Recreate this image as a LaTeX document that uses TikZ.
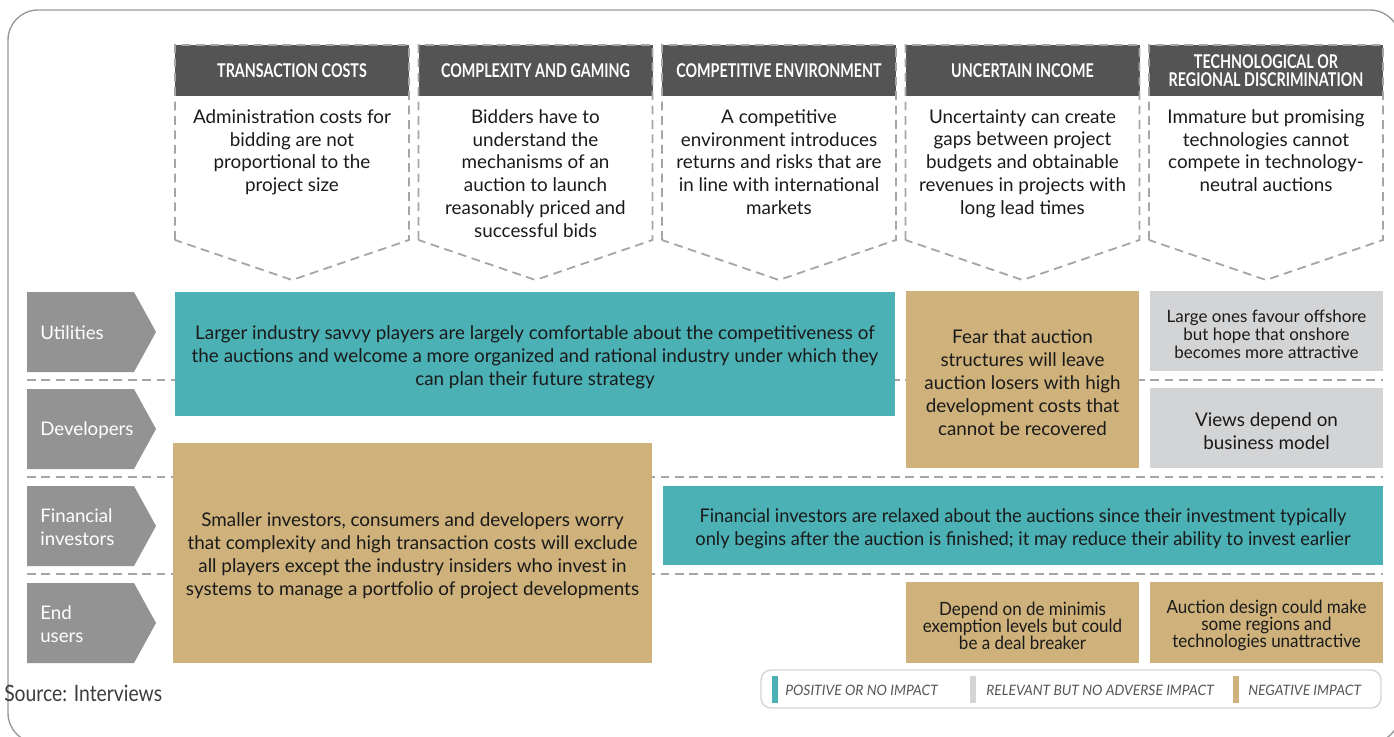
\documentclass[tikz,border=0pt]{standalone}
\usepackage{fontspec}
\setmainfont{Lato}
\newfontfamily\headfont[FakeStretch=0.755]{Lato}
\newfontfamily\narrowfont[FakeStretch=0.97]{Lato}
\newfontfamily\smallfont[FakeStretch=0.93]{Lato}
\newfontfamily\srcfont[FakeStretch=0.86]{Lato}
\usetikzlibrary{fit, positioning}

\definecolor{boxteal}{HTML}{4BB1B5}
\definecolor{boxtan}{HTML}{CFB27B}
\definecolor{boxgray}{HTML}{D3D4D6}
\definecolor{headgray}{HTML}{545454}
\definecolor{rowgray}{HTML}{939393}
\definecolor{linegray}{HTML}{A5A5A5}
\definecolor{framegray}{HTML}{9A9A9A}
\definecolor{txtdark}{HTML}{1A1A1A}
\definecolor{legtext}{HTML}{555555}

\begin{document}
\begin{tikzpicture}[x=0.25mm, y=-0.25mm,
    box/.style={inner sep=0pt, outer sep=0pt},
    posbox/.style={box, fill=boxteal},
    relbox/.style={box, fill=boxgray},
    negbox/.style={box, fill=boxtan},
    boxtext/.style={inner sep=0pt, align=center, text=txtdark, font=\fontsize{13.4}{16.3}\selectfont},
    intext/.style={boxtext, yshift=-0.75mm},
    narrow/.style={intext, font=\narrowfont\fontsize{13.4}{16.3}\selectfont},
    small/.style={intext, font=\smallfont\fontsize{13}{12.2}\selectfont},
    sep/.style={draw=linegray, line width=0.45mm, dash pattern=on 2.2mm off 1.4mm},
    rowlabel/.style={anchor=west, align=left, inner sep=0pt, text=white, font=\fontsize{13.3}{16.3}\selectfont},
    head/.style={align=center, inner sep=0pt, text=white, font=\headfont\bfseries\fontsize{13.5}{12.8}\selectfont},
    legend/.style={anchor=west, inner sep=0pt, text=legtext, font=\narrowfont\itshape\fontsize{10.2}{11}\selectfont}]
  \useasboundingbox (0,0) rectangle (1394,737);
  \clip (0,0) rectangle (1394,737);
  \draw[framegray, line width=0.35mm, rounded corners=7.5mm] (8,10) rectangle (1400,743);

  % column headers
  \foreach \i/\ttl/\txt in {
      0/{TRANSACTION COSTS}/{Administration costs for\\bidding are not\\proportional to the\\project size},
      1/{COMPLEXITY AND GAMING}/{Bidders have to\\understand the\\mechanisms of an\\auction to launch\\reasonably priced and\\successful bids},
      2/{COMPETITIVE ENVIRONMENT}/{A competitive\\environment introduces\\returns and risks that are\\in line with international\\markets},
      3/{UNCERTAIN INCOME}/{Uncertainty can create\\gaps between project\\budgets and obtainable\\revenues in projects with\\long lead times},
      4/{TECHNOLOGICAL OR\\REGIONAL DISCRIMINATION}/{Immature but promising\\technologies cannot\\compete in technology-\\neutral auctions}} {
    \pgfmathsetmacro\xl{175+243.5*\i}
    \pgfmathsetmacro\xr{\xl+234}
    \pgfmathsetmacro\xc{\xl+117}
    \fill[headgray] (\xl,45) rectangle (\xr,96);
    \draw[sep] (\xl,240) -- (\xl,45) -- (\xr,45) -- (\xr,240) -- (\xc,280) -- cycle;
    \node[head] (h\i) at (\xc,70.5) {\ttl};
    \node[boxtext, anchor=north] (c\i) at (\xc,109) {\txt};
  }

  % rows
  \foreach \y in {380,477,574}
    \draw[sep] (27,\y) -- (1383,\y);
  \foreach \i/\y/\lbl in {1/292/Utilities, 2/389/Developers, 3/486/{Financial\\investors}, 4/583/{End\\users}} {
    \fill[rowgray] (27,\y) -- (134,\y) -- (156,\y+40) -- (134,\y+80) -- (27,\y+80) -- cycle;
    \node[rowlabel] (r\i) at (40,\y+41) {\lbl};
  }

  % impact boxes
  \node[posbox, fit={(175,292) (895,416)}] (pos1) {};
  \node[intext] at (pos1) {Larger industry savvy players are largely comfortable about the competitiveness of\\the auctions and welcome a more organized and rational industry under which they\\can plan their future strategy};
  \node[negbox, fit={(173,443) (652,663)}] (neg1) {};
  \node[intext] at (neg1) {Smaller investors, consumers and developers worry\\that complexity and high transaction costs will exclude\\all players except the industry insiders who invest in\\systems to manage a portfolio of project developments};
  \node[negbox, fit={(906,291) (1139,468)}] (neg2) {};
  \node[intext] at (neg2) {Fear that auction\\structures will leave\\auction losers with high\\development costs that\\cannot be recovered};
  \node[relbox, fit={(1150,291) (1383,371)}] (rel1) {};
  \node[intext, font=\fontsize{12.1}{12.9}\selectfont] at (rel1) {Large ones favour offshore\\but hope that onshore\\becomes more attractive};
  \node[relbox, fit={(1150,388) (1383,468)}] (rel2) {};
  \node[intext] at (rel2) {Views depend on\\business model};
  \node[posbox, fit={(663,486) (1383,565)}] (pos2) {};
  \node[narrow] at (pos2) {Financial investors are relaxed about the auctions since their investment typically\\only begins after the auction is finished; it may reduce their ability to invest earlier};
  \node[negbox, fit={(906,582) (1139,663)}] (neg3) {};
  \node[small] at (neg3) {Depend on de minimis\\exemption levels but could\\be a deal breaker};
  \node[negbox, fit={(1150,582) (1383,663)}] (neg4) {};
  \node[small] at (neg4) {Auction design could make\\some regions and\\technologies unattractive};

  \node[anchor=west, inner sep=0pt, text=txtdark!85, font=\srcfont\fontsize{16}{18}\selectfont] (src) at (4,693) {Source: Interviews};

  % legend
  \draw[draw=boxgray, line width=0.35mm, rounded corners=2.5mm] (761,670) rectangle (1381,708);
  \fill[boxteal] (772,676) rectangle (778,703);
  \fill[boxgray] (970,676) rectangle (976,703);
  \fill[boxtan] (1233,676) rectangle (1239,703);
  \node[legend] (l1) at (785,690) {POSITIVE OR NO IMPACT};
  \node[legend] (l2) at (986,690) {RELEVANT BUT NO ADVERSE IMPACT};
  \node[legend] (l3) at (1248,690) {NEGATIVE IMPACT};
\end{tikzpicture}
\end{document}
